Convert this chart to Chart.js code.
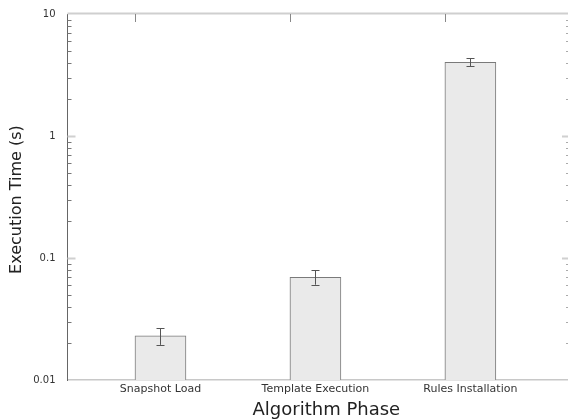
<!DOCTYPE html>
<html>
<head>
<meta charset="utf-8">
<script src="https://cdn.jsdelivr.net/npm/chart.js@4"></script>
<style>
  html, body { margin: 0; padding: 0; background: #fff; }
  #wrap { width: 568px; height: 419px; }
</style>
</head>
<body>
<div id="wrap"><canvas id="phaseChart"></canvas></div>
<script>
// execution time per algorithm phase (log scale)

const categories = ['Snapshot Load', 'Template Execution', 'Rules Installation'];
const meanTimes = [0.023, 0.0695, 4.02];
const errLow = [0.0194, 0.0604, 3.73];
const errHigh = [0.0266, 0.0793, 4.33];
const yTicks = [0.01, 0.1, 1, 10];
const yTickLabels = ['0.01', '0.1', '1', '10'];

const BAR_W = 51;

// minor/major ticks, top axis line and error bars
const decorations = {
    id: 'decorations',
    afterDatasetsDraw(chart) {
        const ctx = chart.ctx;
        const area = chart.chartArea;
        const x = chart.scales.x;
        const y = chart.scales.y;
        ctx.save();

        // top axis line
        ctx.strokeStyle = '#cfcfcf';
        ctx.lineWidth = 2;
        ctx.beginPath();
        ctx.moveTo(area.left, area.top - 0.5);
        ctx.lineTo(area.right, area.top - 0.5);
        ctx.stroke();

        // y minor and major ticks, left and right
        ctx.lineWidth = 1;
        for (let d = 0; d < yTicks.length - 1; d++) {
            const base = yTicks[d];
            for (let m = 2; m <= 9; m++) {
                const py = Math.round(y.getPixelForValue(base * m)) + 0.5;
                ctx.strokeStyle = '#777';
                ctx.beginPath();
                ctx.moveTo(area.left, py);
                ctx.lineTo(area.left + 4, py);
                ctx.stroke();
                ctx.strokeStyle = '#aaa';
                ctx.beginPath();
                ctx.moveTo(area.right - 2, py);
                ctx.lineTo(area.right, py);
                ctx.stroke();
            }
        }
        for (let i = 1; i < yTicks.length - 1; i++) {
            const py = Math.round(y.getPixelForValue(yTicks[i])) + 0.5;
            ctx.strokeStyle = '#d0d0d0';
            ctx.lineWidth = 2;
            ctx.beginPath();
            ctx.moveTo(area.left, py);
            ctx.lineTo(area.left + 8, py);
            ctx.moveTo(area.right - 6, py);
            ctx.lineTo(area.right, py);
            ctx.stroke();
        }

        // top ticks at bar left edges
        ctx.strokeStyle = '#888';
        ctx.lineWidth = 1;
        categories.forEach((c, i) => {
            const px = Math.round(x.getPixelForValue(i) - BAR_W / 2) + 0.5;
            ctx.beginPath();
            ctx.moveTo(px, area.top);
            ctx.lineTo(px, area.top + 8);
            ctx.stroke();
        });

        // error bars
        ctx.strokeStyle = '#555';
        ctx.lineWidth = 1;
        categories.forEach((c, i) => {
            const px = Math.round(x.getPixelForValue(i)) + 0.5;
            const top = y.getPixelForValue(errHigh[i]);
            const bot = y.getPixelForValue(errLow[i]);
            ctx.beginPath();
            ctx.moveTo(px, top);
            ctx.lineTo(px, bot);
            ctx.moveTo(px - 4, Math.round(top) + 0.5);
            ctx.lineTo(px + 4, Math.round(top) + 0.5);
            ctx.moveTo(px - 4, Math.round(bot) + 0.5);
            ctx.lineTo(px + 4, Math.round(bot) + 0.5);
            ctx.stroke();
        });

        ctx.restore();
    }
};

const ctx = document.getElementById('phaseChart').getContext('2d');

new Chart(ctx, {
    type: 'bar',
    data: {
        datasets: [{
            label: 'Execution Time',
            data: meanTimes.map((v, i) => ({ x: i, y: v })),
            backgroundColor: '#eaeaea',
            borderColor: '#7a7a7a',
            borderWidth: 1,
            barThickness: BAR_W
        }]
    },
    plugins: [decorations],
    options: {
        responsive: true,
        maintainAspectRatio: false,
        animation: false,
        layout: {
            padding: { top: 14, right: 0, left: 0, bottom: 0 }
        },
        scales: {
            x: {
                type: 'linear',
                min: -0.6,
                max: 2.63,
                offset: false,
                grid: { display: false, drawTicks: false },
                border: { color: '#c8c8c8', width: 1.5 },
                afterBuildTicks: (scale) => {
                    scale.ticks = categories.map((c, i) => ({ value: i }));
                },
                afterFit: (scale) => {
                    scale.height = 39;
                    scale.paddingLeft = 0;
                    scale.paddingRight = 0;
                },
                ticks: {
                    autoSkip: false,
                    maxRotation: 0,
                    padding: 3,
                    color: '#333',
                    font: { family: 'DejaVu Sans', size: 11 },
                    callback: (value) => categories[value]
                },
                title: {
                    display: true,
                    // leading spaces nudge the centred title right
                    text: '   Algorithm Phase',
                    color: '#222',
                    font: { family: 'DejaVu Sans', size: 18, weight: 'normal' },
                    padding: { top: 0, bottom: -2 }
                }
            },
            y: {
                type: 'logarithmic',
                min: 0.01,
                max: 10,
                grid: { display: false, drawTicks: false },
                border: { color: '#666', width: 1 },
                afterBuildTicks: (scale) => {
                    scale.ticks = yTicks.map(v => ({ value: v }));
                },
                afterFit: (scale) => {
                    scale.width = 67.5;
                    scale.paddingTop = 0;
                    scale.paddingBottom = 0;
                },
                ticks: {
                    padding: 12,
                    color: '#333',
                    font: { family: 'DejaVu Sans', size: 10 },
                    callback: (value) => yTickLabels[yTicks.indexOf(value)]
                },
                title: {
                    display: true,
                    text: 'Execution Time (s) ',
                    color: '#222',
                    font: { family: 'DejaVu Sans', size: 16, weight: 'normal' },
                    padding: { top: 7, bottom: 0 }
                }
            }
        },
        plugins: {
            legend: { display: false },
            tooltip: { enabled: false }
        }
    }
});
</script>
</body>
</html>
